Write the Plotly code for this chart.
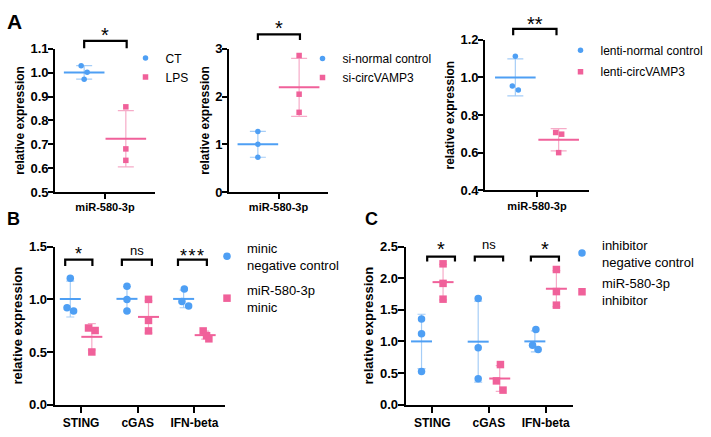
import numpy as np
import plotly.graph_objects as go

W, H = 711, 437
FONT = "Arial, Liberation Sans, Helvetica, sans-serif"

BLUE = "#4E9FF4"
BLUE_ERR = "#A5CDF7"
PINK = "#F0619A"
PINK_ERR = "#F6ABC8"

# ---------------- data ----------------
A1_CATEGORY = ["miR-580-3p"]
A1_NAMES = ["CT", "LPS"]
A1_CT = [1.029, 1.002, 0.973]
A1_LPS = [0.857, 0.681, 0.633]
A1_SIG = ["*"]

A2_CATEGORY = ["miR-580-3p"]
A2_NAMES = ["si-normal control", "si-circVAMP3"]
A2_NC = [1.27, 1.00, 0.73]
A2_CIRC = [2.86, 2.05, 1.67]
A2_SIG = ["*"]

A3_CATEGORY = ["miR-580-3p"]
A3_NAMES = ["lenti-normal control", "lenti-circVAMP3"]
A3_NC = [1.113, 0.955, 0.933]
A3_CIRC = [0.708, 0.699, 0.601]
A3_SIG = ["**"]

B_CATEGORIES = ["STING", "cGAS", "IFN-beta"]
B_NAMES = ["minic<br>negative control", "miR-580-3p<br>minic"]
B_NC = [[1.20, 0.92, 0.89], [1.125, 1.00, 0.89], [1.098, 0.979, 0.936]]
B_MIMIC = [[0.728, 0.704, 0.50], [1.00, 0.80, 0.70], [0.70, 0.655, 0.625]]
B_SIG = ["*", "ns", "*\u200a*\u200a*"]

C_CATEGORIES = ["STING", "cGAS", "IFN-beta"]
C_NAMES = ["inhibitor<br>negative control", "miR-580-3p<br>inhibitor"]
C_NC = [[1.357, 1.122, 0.523], [1.68, 0.90, 0.41], [1.19, 0.94, 0.873]]
C_INH = [[2.23, 1.92, 1.67], [0.634, 0.375, 0.229], [2.14, 1.79, 1.575]]
C_SIG = ["*", "ns", "*"]

# ---------------- layout / style (pixel geometry) ----------------
PANELS = [
    dict(cats=A1_CATEGORY, names=A1_NAMES, series=[[A1_CT], [A1_LPS]], sig=A1_SIG,
         dom_x=(55, 155), dom_y=(43.3, 191.7), yrange=(0.5, 1.1), dtick=0.1, fmt=".1f",
         xrange=(-1.2, 1.2), offs=(-0.5, 0.5), jit=[[[-3, 3, 0]], [[0, 0, 0]]],
         msize=5.5, mean_w=29, cap=8, tick_font=13, cat_font=11, title_font=12,
         brk=[(-0.5, 0.52)], brk_y=(35, 42.7), sig_y=[24.7], star_font=20,
         leg=(145.5, 52.3), leg_font=12, leg_gap=0),
    dict(cats=A2_CATEGORY, names=A2_NAMES, series=[[A2_NC], [A2_CIRC]], sig=A2_SIG,
         dom_x=(229, 328), dom_y=(43.3, 191.7), yrange=(0, 3), dtick=1, fmt="d",
         xrange=(-1.2, 1.2), offs=(-0.5, 0.5), jit=[[[0, 0, 0]], [[0, 0, 0]]],
         msize=5.5, mean_w=29, cap=8, tick_font=13, cat_font=11, title_font=12,
         brk=[(-0.5, 0.52)], brk_y=(28.3, 34.3), sig_y=[17.5], star_font=20,
         leg=(322.5, 52.7), leg_font=12, leg_gap=0),
    dict(cats=A3_CATEGORY, names=A3_NAMES, series=[[A3_NC], [A3_CIRC]], sig=A3_SIG,
         dom_x=(485, 589), dom_y=(34, 190), yrange=(0.4, 1.2), dtick=0.2, fmt=".1f",
         xrange=(-1.2, 1.2), offs=(-0.5, 0.5), jit=[[[0, -3, 3]], [[-3, 3, 0]]],
         msize=5.5, mean_w=29, cap=8, tick_font=13, cat_font=11, title_font=12,
         brk=[(-0.55, 0.45)], brk_y=(22.7, 29.3), sig_y=[13.3], star_font=20,
         leg=(580.5, 44.3), leg_font=12, leg_gap=2.4),
    dict(cats=B_CATEGORIES, names=B_NAMES, series=[B_NC, B_MIMIC], sig=B_SIG,
         dom_x=(55, 225), dom_y=(248.3, 411.7), yrange=(0, 1.5), dtick=0.5, fmt=".1f",
         xrange=(-0.46, 2.54), offs=(-0.19, 0.19),
         jit=[[[0, -3.3, 3.3], [0, 0, 0], [0.7, -1.7, 5]],
              [[-3.3, 3.3, 0], [0, 0, 0], [-2, 1.4, 3.7]]],
         msize=7.5, mean_w=15, cap=4, tick_font=13, cat_font=12, title_font=13,
         brk=[(-0.28, 0.20), (-0.28, 0.25), (-0.29, 0.22)], brk_y=(261.7, 268.3),
         sig_y=[251.5, 251.5, 253.7], star_font=18,
         leg=(227, 257), leg_font=13, leg_gap=5),
    dict(cats=C_CATEGORIES, names=C_NAMES, series=[C_NC, C_INH], sig=C_SIG,
         dom_x=(406, 573), dom_y=(248.3, 411.7), yrange=(0, 2.5), dtick=0.5, fmt=".1f",
         xrange=(-0.464, 2.483), offs=(-0.19, 0.19),
         jit=[[[0, 0, 0], [0, 0, 0], [1, -2.3, 3.3]],
              [[0, 0, 0], [0.7, -3.3, 3.3], [0, 0, 0]]],
         msize=7.5, mean_w=15, cap=4, tick_font=13, cat_font=12, title_font=13,
         brk=[(-0.09, 0.40), (-0.25, 0.25), (-0.26, 0.235)], brk_y=(258.5, 263.5),
         sig_y=[245.8, 245.5, 245.8], star_font=20,
         leg=(582, 253.5), leg_font=13, leg_gap=2),
]

COLORS = [(BLUE, BLUE_ERR, "circle"), (PINK, PINK_ERR, "square")]


def fx(px):
    return px / W


def fy(py):
    return 1 - py / H


fig = go.Figure()
layout = {}
annotations = []
shapes = []

for i, P in enumerate(PANELS, start=1):
    s = "" if i == 1 else str(i)
    xref, yref = "x" + s, "y" + s
    leg_id = "legend" + s
    ncat = len(P["cats"])
    ppu = (P["dom_x"][1] - P["dom_x"][0]) / (P["xrange"][1] - P["xrange"][0])

    # mean + SD
    for g in range(2):
        color, errc, sym = COLORS[g]
        ser = P["series"][g]
        means = [float(np.mean(v)) for v in ser]
        sds = [float(np.std(v, ddof=1)) for v in ser]
        fig.add_trace(go.Scatter(
            x=[c + P["offs"][g] for c in range(ncat)], y=means, mode="markers",
            marker=dict(symbol="line-ew", size=P["mean_w"], color=color,
                        line=dict(color=color, width=2)),
            error_y=dict(type="data", array=sds, visible=True, color=errc,
                         thickness=1.2, width=P["cap"]),
            showlegend=False, hoverinfo="skip", xaxis=xref, yaxis=yref,
            cliponaxis=False))
    # individual points
    for g in range(2):
        color, errc, sym = COLORS[g]
        ser = P["series"][g]
        xs, ys = [], []
        for c, vals in enumerate(ser):
            for k, v in enumerate(vals):
                xs.append(c + P["offs"][g] + P["jit"][g][c][k] / ppu)
                ys.append(v)
        fig.add_trace(go.Scatter(
            x=xs, y=ys, mode="markers", name=P["names"][g],
            marker=dict(symbol=sym, size=P["msize"], color=color),
            legend=leg_id, legendgroup=f"p{i}g{g}",
            xaxis=xref, yaxis=yref, cliponaxis=False))

    tl = 5 if ncat == 1 else 6.5
    layout["xaxis" + s] = dict(
        domain=[fx(P["dom_x"][0]), fx(P["dom_x"][1])], range=list(P["xrange"]),
        anchor=yref, tickmode="array", tickvals=list(range(ncat)), ticktext=P["cats"],
        showline=True, linecolor="black", linewidth=1.8, ticks="outside",
        ticklen=tl, tickwidth=1.8, tickcolor="black",
        ticklabelstandoff=-1 if ncat == 1 else 0,
        showgrid=False, zeroline=False, fixedrange=True,
        tickfont=dict(family=FONT, size=P["cat_font"], color="black", weight="bold"))
    layout["yaxis" + s] = dict(
        domain=[fy(P["dom_y"][1]), fy(P["dom_y"][0])], range=list(P["yrange"]),
        anchor=xref, dtick=P["dtick"], tick0=0, tickformat=P["fmt"],
        showline=True, linecolor="black", linewidth=1.8, ticks="outside",
        ticklen=tl, tickwidth=1.8, tickcolor="black", ticklabelstandoff=-3,
        showgrid=False, zeroline=False, fixedrange=True,
        tickfont=dict(family=FONT, size=P["tick_font"], color="black", weight="bold"),
        title=dict(text="relative expression", standoff=3,
                   font=dict(family=FONT, size=P["title_font"], color="black", weight="bold")))

    # significance brackets and labels
    yt, yl = fy(P["brk_y"][0]), fy(P["brk_y"][1])
    for c, (b0, b1) in enumerate(P["brk"]):
        x0, x1 = c + b0, c + b1
        shapes.append(dict(type="path", xref=xref, yref="paper",
                           path=f"M {x0},{yl} L {x0},{yt} L {x1},{yt} L {x1},{yl}",
                           line=dict(color="black", width=2.2)))
        lab = P["sig"][c]
        is_star = "*" in lab
        fs = P["star_font"] if is_star else 13
        yc = P["sig_y"][c] + (0.235 * fs if is_star else 0.5)
        annotations.append(dict(text=lab, xref=xref, yref="paper", x=c + (b0 + b1) / 2,
                                y=fy(yc), yanchor="middle", xanchor="center", showarrow=False,
                                font=dict(family=FONT, size=fs, color="black")))

    layout[leg_id] = dict(
        x=fx(P["leg"][0] - 20), y=fy(P["leg"][1] - (14.5 if ncat == 1 else 23)),
        xanchor="left", yanchor="top", bgcolor="rgba(0,0,0,0)", borderwidth=0,
        traceorder="grouped", tracegroupgap=P["leg_gap"],
        font=dict(family=FONT, size=P["leg_font"], color="black"))

for lab, px, py, fs in [("A", 14.7, 15.3, 21), ("B", 13.5, 219.5, 18), ("C", 371, 220, 18)]:
    annotations.append(dict(text=lab, xref="paper", yref="paper", x=fx(px), y=fy(py),
                            xanchor="center", yanchor="middle", showarrow=False,
                            font=dict(family=FONT, size=fs, color="black", weight="bold")))

fig.update_layout(
    width=W, height=H, margin=dict(l=0, r=0, t=0, b=0),
    paper_bgcolor="white", plot_bgcolor="white",
    font=dict(family=FONT, color="black"),
    annotations=annotations, shapes=shapes, hovermode=False,
    **layout)

fig.write_html("out.html")
